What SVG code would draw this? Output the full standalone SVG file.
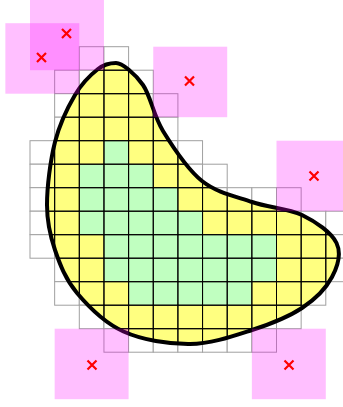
<svg xmlns="http://www.w3.org/2000/svg" xmlns:xlink="http://www.w3.org/1999/xlink" width="343" height="407" viewBox="0 0 343 407">
<style>
.pink{fill:#ff00ff;fill-opacity:0.25;stroke:none}
.x{fill:none;stroke:#ff0000;stroke-width:2.2}
.blob{fill:none;stroke:#000;stroke-width:4;stroke-linejoin:round}
.green{fill:#c0ffc0;stroke:none}
</style>
<defs>
<path id="shape" d="M116,63 C122,63 135.17,73.67 143,85 C150.83,96.33 153.17,115 163,131 C172.83,147 187.17,169.17 202,181 C216.83,192.83 235.33,196.33 252,202 C268.67,207.67 287.92,208.17 302,215 C316.08,221.83 331.5,232.67 336.5,243 C341.5,253.33 337.75,266.17 332,277 C326.25,287.83 315.33,299.17 302,308 C288.67,316.83 270.67,324 252,330 C233.33,336 211.42,343.75 190,344 C168.58,344.25 142.33,340 123.5,331.5 C104.67,323 88.42,306.58 77,293 C65.58,279.42 60,264.67 55,250 C50,235.33 47,223 47,205 C47,187 50.33,160.33 55,142 C59.67,123.67 67.83,107.17 75,95 C82.17,82.83 91.17,74.33 98,69 C104.83,63.67 110,63 116,63 Z"/>
<clipPath id="clip"><use xlink:href="#shape"/></clipPath>
<g id="cells">
<rect x="79.3" y="46.7" width="24.65" height="23.5"/><rect x="103.95" y="46.7" width="24.65" height="23.5"/>
<rect x="54.65" y="70.2" width="24.65" height="23.5"/><rect x="79.3" y="70.2" width="24.65" height="23.5"/><rect x="103.95" y="70.2" width="24.65" height="23.5"/><rect x="128.6" y="70.2" width="24.65" height="23.5"/>
<rect x="54.65" y="93.7" width="24.65" height="23.5"/><rect x="79.3" y="93.7" width="24.65" height="23.5"/><rect x="103.95" y="93.7" width="24.65" height="23.5"/><rect x="128.6" y="93.7" width="24.65" height="23.5"/><rect x="153.25" y="93.7" width="24.65" height="23.5"/>
<rect x="54.65" y="117.2" width="24.65" height="23.5"/><rect x="79.3" y="117.2" width="24.65" height="23.5"/><rect x="103.95" y="117.2" width="24.65" height="23.5"/><rect x="128.6" y="117.2" width="24.65" height="23.5"/><rect x="153.25" y="117.2" width="24.65" height="23.5"/>
<rect x="30" y="140.7" width="24.65" height="23.5"/><rect x="54.65" y="140.7" width="24.65" height="23.5"/><rect x="79.3" y="140.7" width="24.65" height="23.5"/><rect x="103.95" y="140.7" width="24.65" height="23.5"/><rect x="128.6" y="140.7" width="24.65" height="23.5"/><rect x="153.25" y="140.7" width="24.65" height="23.5"/><rect x="177.9" y="140.7" width="24.65" height="23.5"/>
<rect x="30" y="164.2" width="24.65" height="23.5"/><rect x="54.65" y="164.2" width="24.65" height="23.5"/><rect x="79.3" y="164.2" width="24.65" height="23.5"/><rect x="103.95" y="164.2" width="24.65" height="23.5"/><rect x="128.6" y="164.2" width="24.65" height="23.5"/><rect x="153.25" y="164.2" width="24.65" height="23.5"/><rect x="177.9" y="164.2" width="24.65" height="23.5"/><rect x="202.55" y="164.2" width="24.65" height="23.5"/>
<rect x="30" y="187.7" width="24.65" height="23.5"/><rect x="54.65" y="187.7" width="24.65" height="23.5"/><rect x="79.3" y="187.7" width="24.65" height="23.5"/><rect x="103.95" y="187.7" width="24.65" height="23.5"/><rect x="128.6" y="187.7" width="24.65" height="23.5"/><rect x="153.25" y="187.7" width="24.65" height="23.5"/><rect x="177.9" y="187.7" width="24.65" height="23.5"/><rect x="202.55" y="187.7" width="24.65" height="23.5"/><rect x="227.2" y="187.7" width="24.65" height="23.5"/><rect x="251.85" y="187.7" width="24.65" height="23.5"/><rect x="276.5" y="187.7" width="24.65" height="23.5"/>
<rect x="30" y="211.2" width="24.65" height="23.5"/><rect x="54.65" y="211.2" width="24.65" height="23.5"/><rect x="79.3" y="211.2" width="24.65" height="23.5"/><rect x="103.95" y="211.2" width="24.65" height="23.5"/><rect x="128.6" y="211.2" width="24.65" height="23.5"/><rect x="153.25" y="211.2" width="24.65" height="23.5"/><rect x="177.9" y="211.2" width="24.65" height="23.5"/><rect x="202.55" y="211.2" width="24.65" height="23.5"/><rect x="227.2" y="211.2" width="24.65" height="23.5"/><rect x="251.85" y="211.2" width="24.65" height="23.5"/><rect x="276.5" y="211.2" width="24.65" height="23.5"/><rect x="301.15" y="211.2" width="24.65" height="23.5"/><rect x="325.8" y="211.2" width="24.65" height="23.5"/>
<rect x="30" y="234.7" width="24.65" height="23.5"/><rect x="54.65" y="234.7" width="24.65" height="23.5"/><rect x="79.3" y="234.7" width="24.65" height="23.5"/><rect x="103.95" y="234.7" width="24.65" height="23.5"/><rect x="128.6" y="234.7" width="24.65" height="23.5"/><rect x="153.25" y="234.7" width="24.65" height="23.5"/><rect x="177.9" y="234.7" width="24.65" height="23.5"/><rect x="202.55" y="234.7" width="24.65" height="23.5"/><rect x="227.2" y="234.7" width="24.65" height="23.5"/><rect x="251.85" y="234.7" width="24.65" height="23.5"/><rect x="276.5" y="234.7" width="24.65" height="23.5"/><rect x="301.15" y="234.7" width="24.65" height="23.5"/><rect x="325.8" y="234.7" width="24.65" height="23.5"/>
<rect x="54.65" y="258.2" width="24.65" height="23.5"/><rect x="79.3" y="258.2" width="24.65" height="23.5"/><rect x="103.95" y="258.2" width="24.65" height="23.5"/><rect x="128.6" y="258.2" width="24.65" height="23.5"/><rect x="153.25" y="258.2" width="24.65" height="23.5"/><rect x="177.9" y="258.2" width="24.65" height="23.5"/><rect x="202.55" y="258.2" width="24.65" height="23.5"/><rect x="227.2" y="258.2" width="24.65" height="23.5"/><rect x="251.85" y="258.2" width="24.65" height="23.5"/><rect x="276.5" y="258.2" width="24.65" height="23.5"/><rect x="301.15" y="258.2" width="24.65" height="23.5"/><rect x="325.8" y="258.2" width="24.65" height="23.5"/>
<rect x="54.65" y="281.7" width="24.65" height="23.5"/><rect x="79.3" y="281.7" width="24.65" height="23.5"/><rect x="103.95" y="281.7" width="24.65" height="23.5"/><rect x="128.6" y="281.7" width="24.65" height="23.5"/><rect x="153.25" y="281.7" width="24.65" height="23.5"/><rect x="177.9" y="281.7" width="24.65" height="23.5"/><rect x="202.55" y="281.7" width="24.65" height="23.5"/><rect x="227.2" y="281.7" width="24.65" height="23.5"/><rect x="251.85" y="281.7" width="24.65" height="23.5"/><rect x="276.5" y="281.7" width="24.65" height="23.5"/><rect x="301.15" y="281.7" width="24.65" height="23.5"/>
<rect x="79.3" y="305.2" width="24.65" height="23.5"/><rect x="103.95" y="305.2" width="24.65" height="23.5"/><rect x="128.6" y="305.2" width="24.65" height="23.5"/><rect x="153.25" y="305.2" width="24.65" height="23.5"/><rect x="177.9" y="305.2" width="24.65" height="23.5"/><rect x="202.55" y="305.2" width="24.65" height="23.5"/><rect x="227.2" y="305.2" width="24.65" height="23.5"/><rect x="251.85" y="305.2" width="24.65" height="23.5"/><rect x="276.5" y="305.2" width="24.65" height="23.5"/>
<rect x="103.95" y="328.7" width="24.65" height="23.5"/><rect x="128.6" y="328.7" width="24.65" height="23.5"/><rect x="153.25" y="328.7" width="24.65" height="23.5"/><rect x="177.9" y="328.7" width="24.65" height="23.5"/><rect x="202.55" y="328.7" width="24.65" height="23.5"/><rect x="227.2" y="328.7" width="24.65" height="23.5"/><rect x="251.85" y="328.7" width="24.65" height="23.5"/>
</g>
</defs>
<rect width="343" height="407" fill="#ffffff"/>
<g id="grid-outside">
<use xlink:href="#cells" fill="#ffffff" stroke="#a0a0a0" stroke-width="1"/>
</g>
<g id="grid-inside" clip-path="url(#clip)">
<use xlink:href="#cells" fill="#ffff80" stroke="none"/>
<g id="interior">
<rect class="green" x="103.95" y="140.7" width="24.65" height="23.5"/>
<rect class="green" x="79.3" y="164.2" width="73.95" height="23.5"/>
<rect class="green" x="79.3" y="187.7" width="98.6" height="23.5"/>
<rect class="green" x="79.3" y="211.2" width="123.25" height="23.5"/>
<rect class="green" x="103.95" y="234.7" width="172.55" height="47"/>
<rect class="green" x="128.6" y="281.7" width="123.25" height="23.5"/>
</g>
<use xlink:href="#cells" fill="none" stroke="#000000" stroke-width="1"/>
</g>
<g id="outline">
<use xlink:href="#shape" class="blob"/>
</g>
<g id="windows">
<rect class="pink" x="30" y="-0.3" width="73.95" height="70.5"/>
<rect class="pink" x="5.35" y="23.2" width="73.95" height="70.5"/>
<rect class="pink" x="153.25" y="46.7" width="73.95" height="70.5"/>
<rect class="pink" x="276.5" y="140.7" width="73.95" height="70.5"/>
<rect class="pink" x="54.65" y="328.7" width="73.95" height="70.5"/>
<rect class="pink" x="251.85" y="328.7" width="73.95" height="70.5"/>
</g>
<g id="marks">
<path class="x" d="M62,29L71,38M71,29L62,38"/>
<path class="x" d="M37,53L46,62M46,53L37,62"/>
<path class="x" d="M185,76.5L194,85.5M194,76.5L185,85.5"/>
<path class="x" d="M309.5,171.5L318.5,180.5M318.5,171.5L309.5,180.5"/>
<path class="x" d="M87.5,360.5L96.5,369.5M96.5,360.5L87.5,369.5"/>
<path class="x" d="M284.5,360.5L293.5,369.5M293.5,360.5L284.5,369.5"/>
</g>
</svg>
